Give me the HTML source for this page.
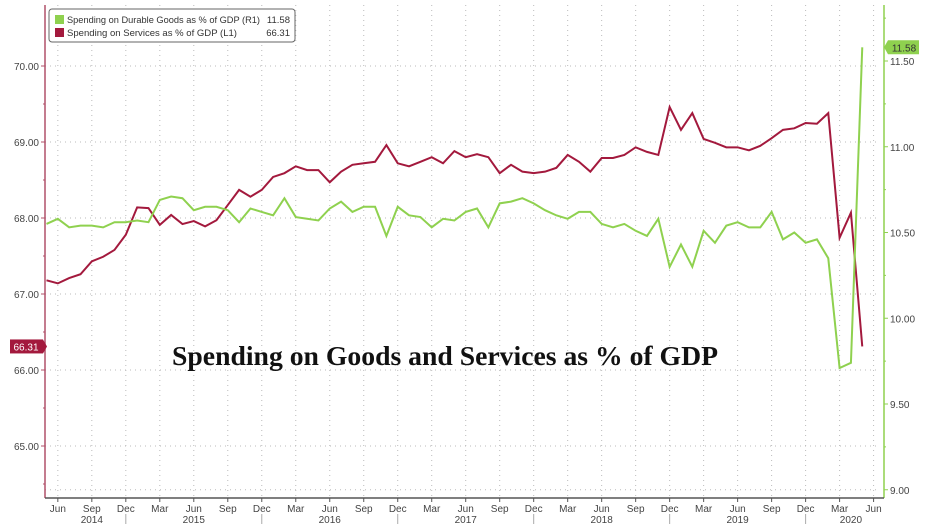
<!DOCTYPE html>
<html><head><meta charset="utf-8">
<style>
body{margin:0;background:#fff;width:928px;height:529px;overflow:hidden;font-family:"Liberation Sans",sans-serif}
svg{display:block}
</style></head><body>
<svg id="chart" width="928" height="529" xmlns="http://www.w3.org/2000/svg"></svg>
<script>
const services = [67.18,67.14,67.21,67.26,67.43,67.49,67.58,67.78,68.14,68.13,67.91,68.04,67.92,67.96,67.89,67.97,68.17,68.37,68.28,68.37,68.54,68.59,68.68,68.63,68.63,68.47,68.61,68.70,68.72,68.74,68.96,68.72,68.68,68.74,68.80,68.72,68.88,68.80,68.84,68.80,68.59,68.70,68.61,68.59,68.61,68.66,68.83,68.74,68.61,68.79,68.79,68.83,68.93,68.87,68.83,69.46,69.16,69.38,69.04,68.99,68.93,68.93,68.89,68.95,69.05,69.16,69.18,69.25,69.24,69.38,67.74,68.07,66.31];
const durables = [10.55,10.58,10.53,10.54,10.54,10.53,10.56,10.56,10.57,10.56,10.69,10.71,10.70,10.63,10.65,10.65,10.63,10.56,10.64,10.62,10.60,10.70,10.59,10.58,10.57,10.64,10.68,10.62,10.65,10.65,10.48,10.65,10.60,10.59,10.53,10.58,10.57,10.62,10.64,10.53,10.67,10.68,10.70,10.67,10.63,10.60,10.58,10.62,10.62,10.55,10.53,10.55,10.51,10.48,10.58,10.30,10.43,10.30,10.51,10.44,10.54,10.56,10.53,10.53,10.62,10.46,10.50,10.44,10.46,10.35,9.71,9.74,11.58];
const leftTicks = [65,66,67,68,69,70];
const rightTicks = [9.0,9.5,10.0,10.5,11.0,11.5];
const quarterLabels = ["Jun","Sep","Dec","Mar"];
const years = ["2014","2015","2016","2017","2018","2019","2020"];

const svg = document.getElementById('chart');
const NS = 'http://www.w3.org/2000/svg';
function mk(tag, attrs, parent){const e=document.createElementNS(NS,tag);for(const k in attrs)e.setAttribute(k,attrs[k]);(parent||svg).appendChild(e);return e;}
const xOf = i => 46.5 + i*11.33;
const yL = v => 66 + (70 - v)*76;
const yR = v => 61 + (11.5 - v)*171.5;

const grid = mk('g',{});


for(let m=1;m<=73;m+=3){
  mk('line',{x1:xOf(m),x2:xOf(m),y1:5,y2:498,stroke:'#bbb','stroke-dasharray':'1,4'},grid);
}
leftTicks.forEach(v=>mk('line',{x1:45,x2:880,y1:yL(v),y2:yL(v),stroke:'#bbb','stroke-dasharray':'1,4'},grid));
mk('line',{x1:45,x2:880,y1:yR(9),y2:yR(9),stroke:'#bbb','stroke-dasharray':'1,4'},grid);

const la=mk('line',{x1:45,x2:45,y1:5,y2:498,stroke:'#b0506a','stroke-width':1.5});


const ra=mk('line',{x1:884,x2:884,y1:5,y2:498,stroke:'#8fd14f','stroke-width':1.5});


const ba=mk('line',{x1:45,x2:884,y1:498,y2:498,stroke:'#555','stroke-width':1.5});



leftTicks.forEach(v=>{
  mk('line',{x1:41,x2:45,y1:yL(v),y2:yL(v),stroke:'#b0506a'});
  mk('line',{x1:43,x2:45,y1:yL(v-0.5),y2:yL(v-0.5),stroke:'#b0506a'});
  const t=mk('text',{x:39,y:yL(v)+4,'text-anchor':'end','font-size':10,fill:'#444'});
  t.textContent=v.toFixed(2);
  
  
});
rightTicks.forEach(v=>{
  mk('line',{x1:884,x2:888,y1:yR(v),y2:yR(v),stroke:'#8fd14f'});
  mk('line',{x1:884,x2:886,y1:yR(v+0.25),y2:yR(v+0.25),stroke:'#8fd14f'});
  const t=mk('text',{x:890,y:yR(v)+4,'font-size':10,fill:'#444'});
  t.textContent=v.toFixed(2);
  
  
});
for(let m=1,q=0;m<=73;m+=3,q++){
  mk('line',{x1:xOf(m),x2:xOf(m),y1:498,y2:502,stroke:'#555'});
  const t=mk('text',{x:xOf(m),y:512,'text-anchor':'middle','font-size':10,fill:'#444'});
  t.textContent=quarterLabels[q%4];
  
  
  if(q%4===2) mk('line',{x1:xOf(m),x2:xOf(m),y1:514,y2:524,stroke:'#aaa'});
}
years.forEach((y,k)=>{
  const start = k===0?1:(k*12-5);
  const end = k===6?73:(k*12+7);
  const cx = k===0?xOf(4):(k===6?xOf(71):(xOf(start)+xOf(end))/2);
  const t=mk('text',{x:cx,y:523,'text-anchor':'middle','font-size':10,fill:'#444'});
  t.textContent=y;
  
  
});

const pr=mk('polyline',{points:services.map((v,i)=>xOf(i)+','+yL(v)).join(' '),fill:'none',stroke:'#a3193d','stroke-width':2});


const pg=mk('polyline',{points:durables.map((v,i)=>xOf(i)+','+yR(v)).join(' '),fill:'none',stroke:'#8fd14f','stroke-width':2});



const lastS=services[services.length-1], lastD=durables[durables.length-1];
const tagL=mk('g',{});


mk('rect',{x:10,y:yL(lastS)-7,width:33,height:14,fill:'#a3193d'},tagL);
mk('path',{d:`M43 ${yL(lastS)-7} L47 ${yL(lastS)} L43 ${yL(lastS)+7}Z`,fill:'#a3193d'},tagL);
const tl=mk('text',{x:26,y:yL(lastS)+4,'text-anchor':'middle','font-size':10,fill:'#fff'},tagL);tl.textContent=lastS.toFixed(2);
const tagR=mk('g',{});


mk('path',{d:`M884 ${yR(lastD)} L888 ${yR(lastD)-7} L919 ${yR(lastD)-7} L919 ${yR(lastD)+7} L888 ${yR(lastD)+7}Z`,fill:'#8fd14f'},tagR);
const tr=mk('text',{x:904,y:yR(lastD)+4,'text-anchor':'middle','font-size':10,fill:'#333'},tagR);tr.textContent=lastD.toFixed(2);

const lg=mk('g',{});


mk('rect',{x:49,y:9,width:246,height:33,rx:3,fill:'#fff',stroke:'#666'},lg);
mk('rect',{x:55,y:15,width:9,height:9,fill:'#8fd14f'},lg);
mk('rect',{x:55,y:28,width:9,height:9,fill:'#a3193d'},lg);
const l1=mk('text',{x:67,y:23,'font-size':9.5,fill:'#333',textLength:193,lengthAdjust:'spacingAndGlyphs'},lg);l1.textContent='Spending on Durable Goods as % of GDP (R1)';
const l1v=mk('text',{x:290,y:23,'font-size':9.5,fill:'#333','text-anchor':'end'},lg);l1v.textContent=lastD.toFixed(2);
const l2=mk('text',{x:67,y:36,'font-size':9.5,fill:'#333',textLength:170,lengthAdjust:'spacingAndGlyphs'},lg);l2.textContent='Spending on Services as % of GDP (L1)';
const l2v=mk('text',{x:290,y:36,'font-size':9.5,fill:'#333','text-anchor':'end'},lg);l2v.textContent=lastS.toFixed(2);

const ti=mk('text',{x:172,y:365,'font-size':27.5,'font-weight':'bold','font-family':'"Liberation Serif",serif',fill:'#111',textLength:546,lengthAdjust:'spacingAndGlyphs'});
ti.textContent='Spending on Goods and Services as % of GDP';


</script>
</body></html>
